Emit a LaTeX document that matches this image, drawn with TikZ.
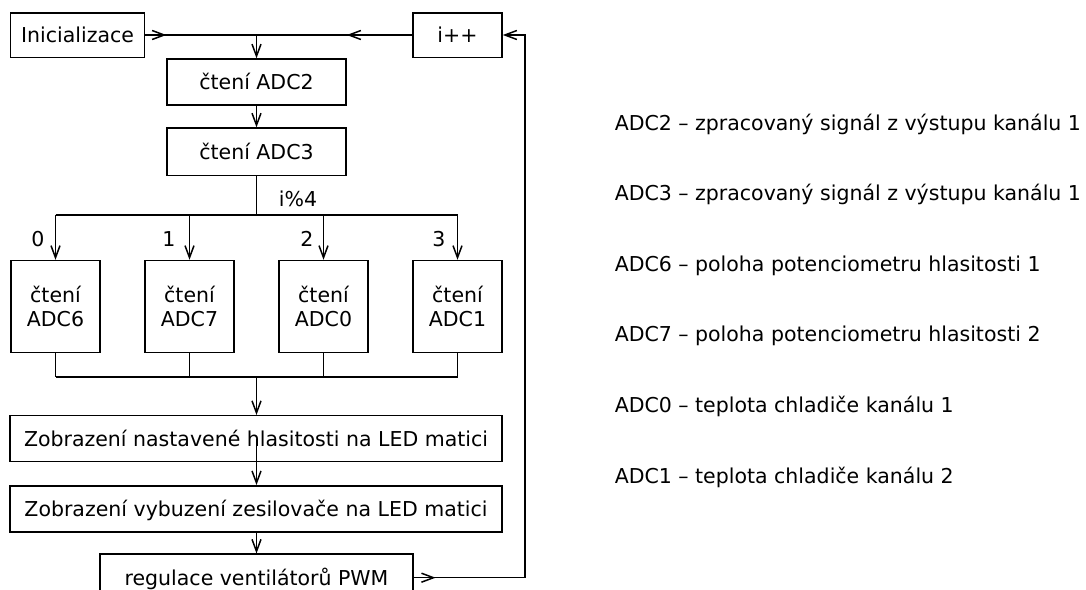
\documentclass[tikz,border=0pt]{standalone}
\usepackage{fontspec}
\setmainfont{DejaVu Sans}
\usetikzlibrary{arrows.meta}
\begin{document}
\begin{tikzpicture}[x=1pt,y=-1pt, line width=1.5pt,
  font=\fontsize{20.5}{24}\selectfont,
  box/.style={draw, inner sep=0pt, minimum height=45pt},
  txt/.style={inner sep=0pt, text height=15pt, text depth=0pt},
  arr/.style={-{Straight Barb[length=12pt,width=9pt]}},
  desc/.style={anchor=base west, inner sep=0pt}]
\fill[white] (0,0) rectangle (1086,589);
\useasboundingbox (0,0) rectangle (1086,589);

% boxes
\node[box,txt,minimum width=134,minimum height=44.5] (ini) at (77.5,35) {Inicializace};
\node[box,txt,minimum width=89,minimum height=44.5] (ipp) at (457.5,35) {i++};
\node[box,txt,minimum width=179,minimum height=46] (adc2) at (256.5,82) {čtení ADC2};
\node[box,txt,minimum width=179,minimum height=47.5] (adc3) at (256.5,151.8) {čtení ADC3};
\node[box,minimum width=89,minimum height=92,align=center] (r0) at (55.5,306.5) {čtení\\ADC6};
\node[box,minimum width=89,minimum height=92,align=center] (r1) at (189.5,306.5) {čtení\\ADC7};
\node[box,minimum width=89,minimum height=92,align=center] (r2) at (323.5,306.5) {čtení\\ADC0};
\node[box,minimum width=89,minimum height=92,align=center] (r3) at (457.5,306.5) {čtení\\ADC1};
\node[box,txt,minimum width=492,minimum height=46] (z1) at (256,438.7) {Zobrazení nastavené hlasitosti na LED matici};
\node[box,txt,minimum width=492,minimum height=46] (z2) at (256,508.8) {Zobrazení vybuzení zesilovače na LED matici};
\node[box,txt,minimum width=313,minimum height=47] (reg) at (256.5,577.7) {regulace ventilátorů PWM};

% labels
\node[txt] (mod) at (298,199) {i\%4};
\node[txt] (d0) at (38,239) {0};
\node[txt] (d1) at (169,239) {1};
\node[txt] (d2) at (307,239) {2};
\node[txt] (d3) at (439,239) {3};

% connectors
\coordinate (j1) at (adc2.north |- ini.east);
\draw (ini.east) -- (ipp.west);
\draw[arr] (ini.east) -- (ini.east -| adc2.west);
\draw[arr] (ipp.west) -- (ipp.west -| adc2.east);
\draw[arr] (j1) -- (adc2.north);
\draw[arr] (adc2) -- (adc3);
\coordinate (b1) at (256.5,214.8);
\draw (adc3.south) -- (b1);
\draw (b1 -| r0.north) -- (b1 -| r3.north);
\foreach \n in {r0,r1,r2,r3} {\draw[arr] (b1 -| \n.north) -- (\n.north);}
\coordinate (b2) at (256.5,377);
\foreach \n in {r0,r1,r2,r3} {\draw (\n.south) -- (b2 -| \n.south);}
\draw (b2 -| r0.south) -- (b2 -| r3.south);
\draw[arr] (b2) -- (z1.north -| b2);
\draw[arr] (z1.center -| b2) -- (z2.north -| b2);
\draw[arr] (z2.south -| b2) -- (reg.north);
\coordinate (rtip) at (435.6,577.7);
\coordinate (fb) at (525,577.7);
\draw (reg.east) -- (fb);
\draw[arr] (reg.east) -- (rtip);
\draw[arr] (fb) |- (ipp.east);

% legend
\node[desc] (l1) at (614,130.5) {ADC2 – zpracovaný signál z výstupu kanálu 1};
\node[desc] (l2) at (614,200.5) {ADC3 – zpracovaný signál z výstupu kanálu 1};
\node[desc] (l3) at (614,271.5) {ADC6 – poloha potenciometru hlasitosti 1};
\node[desc] (l4) at (614,341.5) {ADC7 – poloha potenciometru hlasitosti 2};
\node[desc] (l5) at (614,412.5) {ADC0 – teplota chladiče kanálu 1};
\node[desc] (l6) at (614,483.5) {ADC1 – teplota chladiče kanálu 2};
\end{tikzpicture}
\end{document}
